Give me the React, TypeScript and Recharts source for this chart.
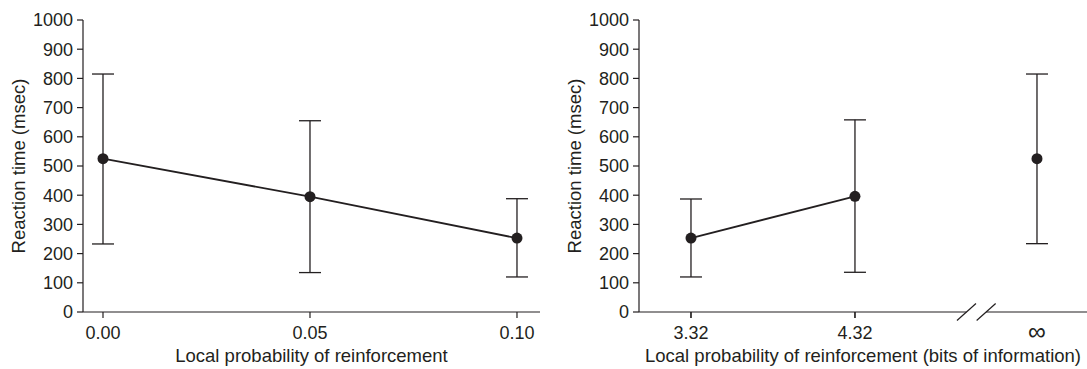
import React from 'react';
import { LineChart, Line, XAxis, YAxis, ErrorBar, ReferenceLine, ReferenceDot } from 'recharts';

// ---- data ----
const leftCategories = [0.0, 0.05, 0.1];
const leftMeans = [525, 395, 253];
const leftUpper = [815, 655, 388];
const leftLower = [233, 135, 120];

const rightCategories = ['3.32', '4.32', '\u221e'];
const rightPositions = [3.32, 4.32, 5.43];
const rightMeans = [253, 396, 525];
const rightUpper = [387, 658, 815];
const rightLower = [120, 136, 234];
const rightJoined = [true, true, false];

const yTicks = [0, 100, 200, 300, 400, 500, 600, 700, 800, 900, 1000];
const leftTicks = [0, 0.05, 0.1];

const leftData = leftCategories.map((x, i) => ({
  x,
  y: leftMeans[i],
  err: [leftMeans[i] - leftLower[i], leftUpper[i] - leftMeans[i]],
}));
const rightAll = rightPositions.map((x, i) => ({
  x,
  y: rightMeans[i],
  err: [rightMeans[i] - rightLower[i], rightUpper[i] - rightMeans[i]],
  label: rightCategories[i],
}));
const rightConnected = rightAll.filter((_, i) => rightJoined[i]);
const rightIsolated = rightAll.filter((_, i) => !rightJoined[i]);
const rightFiniteTicks = rightPositions.filter((_, i) => rightCategories[i] !== '\u221e');

// ---- style / layout ----
const INK = '#231f20';
const FONT = '"Liberation Sans", Arial, Helvetica, sans-serif';
const FS = 18;
const LFS = 18.5;

const RIGHT_W = 542;
const RIGHT_YAXIS_W = 94;
const RIGHT_PLOT_W = RIGHT_W - RIGHT_YAXIS_W;

const leftDomain: [number, number] = [-0.00483, 0.10556];
const rightDomain: [number, number] = [3.003, 5.735];
const breakCenters = [5.0, 5.12];
const breakHalfW = 0.058;
const breakHalfH = 29;

const YLabel = (props: any) => {
  const vb = props.viewBox || {};
  const cx = vb.x + vb.width - 65;
  const cy = vb.y + vb.height / 2;
  return (
    <text
      x={cx}
      y={cy}
      transform={`rotate(-90, ${cx}, ${cy})`}
      textAnchor="middle"
      dominantBaseline="central"
      fill={INK}
      fontSize={LFS}
      fontFamily={FONT}
    >
      Reaction time (msec)
    </text>
  );
};

const makeXLabel = (text: string) => (props: any) => {
  const vb = props.viewBox || {};
  const cx = vb.x + vb.width / 2;
  const cy = vb.y + 50;
  return (
    <text x={cx} y={cy} textAnchor="middle" fill={INK} fontSize={LFS} fontFamily={FONT}>
      {text}
    </text>
  );
};

// Right-panel y tick; the zero tick also carries the broken x-axis baseline.
const RightYTick = (props: any) => {
  const { x, y, payload } = props;
  const axisX = x + 10; // tickSize 6 + tickMargin 4
  const toPx = (v: number) =>
    axisX + ((v - rightDomain[0]) / (rightDomain[1] - rightDomain[0])) * RIGHT_PLOT_W;
  return (
    <g>
      <text x={x} y={y} dy="0.355em" textAnchor="end" fill={INK} fontSize={FS} fontFamily={FONT}>
        {payload.value}
      </text>
      {payload.value === 0 && (
        <g>
          <line x1={axisX} y1={y} x2={toPx(breakCenters[0])} y2={y} stroke={INK} strokeWidth={1.2} />
          <line x1={toPx(breakCenters[1])} y1={y} x2={toPx(rightDomain[1])} y2={y} stroke={INK} strokeWidth={1.2} />
          {rightFiniteTicks.map((t) => (
            <line key={t} x1={toPx(t)} y1={y} x2={toPx(t)} y2={y + 6} stroke={INK} strokeWidth={1.2} />
          ))}
        </g>
      )}
    </g>
  );
};

const axisCommon = {
  stroke: INK,
  tick: { fill: INK, fontSize: FS, fontFamily: FONT },
  tickLine: { stroke: INK, strokeWidth: 1.2 },
  axisLine: { stroke: INK, strokeWidth: 1.2 },
};

const rightTickLabel = (v: number) => rightCategories[rightPositions.indexOf(v)];

export default function App() {
  return (
    <div style={{ position: 'absolute', left: 0, top: 0, width: 1087, height: 369, background: '#fff' }}>
      <div style={{ position: 'absolute', left: 0, top: 0 }}>
        <LineChart id="rt-left" width={545} height={369} data={leftData} margin={{ top: 20, right: 5, left: 0, bottom: 0 }}>
          <XAxis
            dataKey="x"
            type="number"
            domain={leftDomain}
            ticks={leftTicks}
            tickFormatter={(v: number) => v.toFixed(2)}
            height={57}
            tickSize={6}
            tickMargin={8}
            {...axisCommon}
            label={{ content: makeXLabel('Local probability of reinforcement') } as any}
          />
          <YAxis
            type="number"
            domain={[0, 1000]}
            ticks={yTicks}
            width={83}
            tickSize={6}
            tickMargin={4}
            interval={0}
            {...axisCommon}
            label={{ content: YLabel } as any}
          />
          <Line
            dataKey="y"
            stroke={INK}
            strokeWidth={1.8}
            dot={{ r: 5.5, fill: INK, stroke: INK, strokeWidth: 0 }}
            isAnimationActive={false}
          >
            <ErrorBar dataKey="err" direction="y" width={11} stroke={INK} strokeWidth={1.3} />
          </Line>
        </LineChart>
      </div>
      <div style={{ position: 'absolute', left: 545, top: 0 }}>
        <LineChart id="rt-right" width={RIGHT_W} height={369} margin={{ top: 20, right: 0, left: 0, bottom: 0 }}>
          <XAxis
            dataKey="x"
            type="number"
            domain={rightDomain}
            ticks={rightFiniteTicks}
            tickFormatter={rightTickLabel}
            height={57}
            tickSize={6}
            tickMargin={8}
            interval={0}
            {...axisCommon}
            axisLine={false}
            label={{ content: makeXLabel('Local probability of reinforcement (bits of information)') } as any}
          />
          <YAxis
            type="number"
            domain={[0, 1000]}
            ticks={yTicks}
            width={RIGHT_YAXIS_W}
            tickSize={6}
            tickMargin={4}
            interval={0}
            {...axisCommon}
            tick={<RightYTick />}
            label={{ content: YLabel } as any}
          />
          {breakCenters.map((c) => (
            <ReferenceLine
              key={c}
              segment={[
                { x: c - breakHalfW, y: -breakHalfH },
                { x: c + breakHalfW, y: breakHalfH },
              ]}
              stroke={INK}
              strokeWidth={1.2}
              ifOverflow="visible"
            />
          ))}
          <ReferenceDot
            x={rightIsolated[0].x}
            y={0}
            r={0}
            fill="none"
            stroke="none"
            ifOverflow="visible"
            label={{ value: rightIsolated[0].label, position: 'bottom', offset: 10, fill: INK, fontSize: 25, fontFamily: FONT }}
          />
          <Line
            data={rightConnected}
            dataKey="y"
            stroke={INK}
            strokeWidth={1.8}
            dot={{ r: 5.5, fill: INK, stroke: INK, strokeWidth: 0 }}
            isAnimationActive={false}
          >
            <ErrorBar dataKey="err" direction="y" width={11} stroke={INK} strokeWidth={1.3} />
          </Line>
          <Line
            data={rightIsolated}
            dataKey="y"
            stroke={INK}
            strokeWidth={1.8}
            dot={{ r: 5.5, fill: INK, stroke: INK, strokeWidth: 0 }}
            isAnimationActive={false}
          >
            <ErrorBar dataKey="err" direction="y" width={11} stroke={INK} strokeWidth={1.3} />
          </Line>
        </LineChart>
      </div>
    </div>
  );
}
